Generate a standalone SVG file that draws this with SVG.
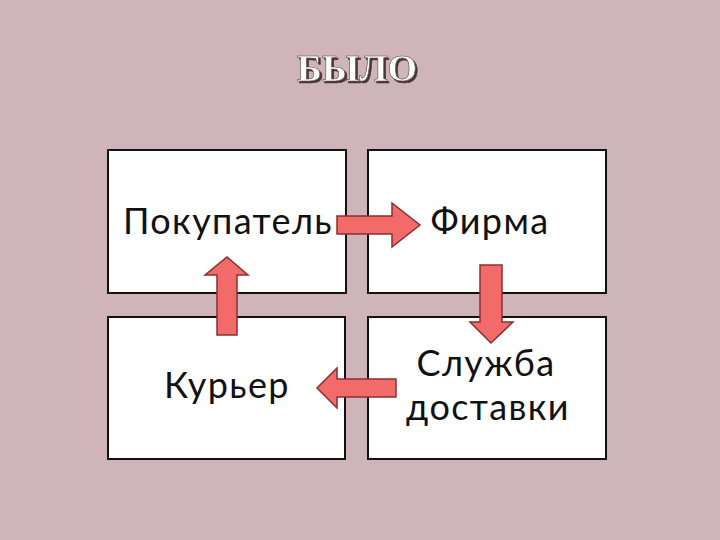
<svg xmlns="http://www.w3.org/2000/svg" width="720" height="540" viewBox="0 0 720 540">
<defs>
<style>
.box{fill:#ffffff;stroke:#111111;stroke-width:2}
.lbl{font-family:Lato,"Open Sans","Noto Sans",sans-serif;font-size:36px;letter-spacing:1.4px;fill:#111111;text-anchor:middle}
.arr{fill:#f26a6a;stroke:#8a2f2f;stroke-width:1.5;stroke-linejoin:miter}
.title{font-family:"Liberation Serif","Times New Roman",serif;font-weight:bold;font-size:38px;text-anchor:middle}
</style>
<filter id="shadow" x="-20%" y="-40%" width="140%" height="180%">
<feDropShadow dx="2" dy="2" stdDeviation="0.6" flood-color="#3a2a2c" flood-opacity="0.9"/>
</filter>
</defs>
<rect x="0" y="0" width="720" height="540" fill="#cfb5b9"/>
<g id="title">
<text class="title" x="357" y="81" fill="#ffffff" stroke="#5a4548" stroke-width="0.6" filter="url(#shadow)">БЫЛО</text>
</g>
<g id="node-pokupatel">
<rect class="box" x="108" y="150" width="238" height="143"/>
<text class="lbl" x="228" y="234">Покупатель</text>
</g>
<g id="node-firma">
<rect class="box" x="368" y="150" width="238" height="143"/>
<text class="lbl" x="490" y="234">Фирма</text>
</g>
<g id="node-kurier">
<rect class="box" x="108" y="317" width="237" height="142"/>
<text class="lbl" x="227" y="398">Курьер</text>
</g>
<g id="node-sluzhba">
<rect class="box" x="368" y="317" width="238" height="142"/>
<text class="lbl"><tspan x="486" y="376">Служба</tspan><tspan x="488" y="420">доставки</tspan></text>
</g>
<g id="connectors">
<polygon class="arr" points="337,216 392,216 392,203 420,225 392,247 392,234 337,234"/>
<polygon class="arr" points="480,265 502,265 502,322 513,322 491,343 470,322 480,322"/>
<polygon class="arr" points="396,379 337,379 337,368 317,388 337,408 337,397 396,397"/>
<polygon class="arr" points="217,335 237,335 237,275 248,275 227,257 205,275 217,275"/>
</g>
</svg>
